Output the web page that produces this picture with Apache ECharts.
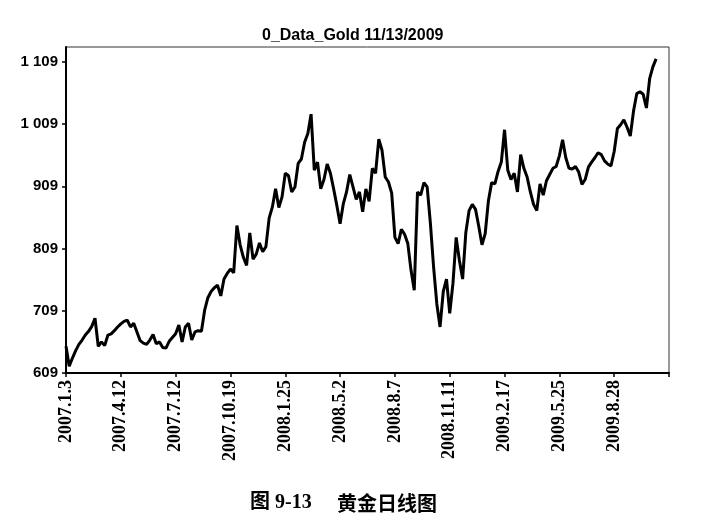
<!DOCTYPE html>
<html>
<head>
<meta charset="utf-8">
<script src="https://cdn.jsdelivr.net/npm/echarts@6/dist/echarts.min.js"></script>
<style>
  html, body { margin: 0; padding: 0; background: #fff; }
  #main { width: 707px; height: 523px; }
</style>
</head>
<body>
<div id="main"></div>
<script>
const goldPrice = [
  652, 620, 633, 645, 655, 662, 670, 676, 684, 697,
  652, 659, 653, 670, 672, 677, 683, 688, 692, 694,
  683, 689, 675, 661, 657, 655, 662, 671, 656, 659,
  650, 649, 660, 666, 672, 686, 659, 683, 689, 662,
  675, 677, 676, 710, 730, 740, 746, 750, 733, 760,
  769, 776, 770, 846, 815, 795, 782, 834, 792, 800,
  818, 804, 812, 858, 876, 905, 875, 892, 930, 926,
  900, 908, 946, 953, 980, 994, 1025, 935, 948, 905,
  920, 945, 930, 905, 878, 849, 881, 900, 928, 908,
  888, 900, 868, 905, 885, 938, 930, 985, 967, 924,
  916, 898, 827, 817, 840, 832, 817, 774, 742, 900,
  895, 915, 908, 850, 779, 720, 683, 740, 760, 705,
  753, 827, 790, 760, 835, 870, 880, 872, 845, 815,
  833, 886, 915, 913, 933, 948, 1000, 935, 920, 930,
  900, 960, 938, 924, 900, 880, 870, 913, 895, 918,
  928, 938, 941, 958, 984, 955, 938, 937, 941, 932,
  912, 920, 940, 948, 955, 963, 960, 950, 945, 942,
  965, 1002, 1008, 1016, 1004, 990, 1030, 1058, 1061, 1057,
  1035, 1082, 1101, 1114
];

// tick labels, one every 17 samples (~68 trading days)
const xTickLabels = [
  '2007.1.3', '2007.4.12', '2007.7.12', '2007.10.19', '2008.1.25', '2008.5.2',
  '2008.8.7', '2008.11.11', '2009.2.17', '2009.5.25', '2009.8.28'
];
const samplesPerTick = 17;
const tickCount = 11;

const yMin = 609;
const yMax = 1133;
const yStep = 100;

const chartTitle = '0_Data_Gold 11/13/2009';
const captionNo = '图 9-13';
const captionText = '黄金日线图';

const categories = [];
for (let i = 0; i <= tickCount * samplesPerTick; i++) categories.push('p' + i);

const myChart = echarts.init(document.getElementById('main'));

const option = {
  backgroundColor: '#fff',
  animation: false,
  title: {
    text: chartTitle,
    left: 257,
    top: 23,
    textStyle: {
      fontFamily: 'Liberation Sans, Arial, sans-serif',
      fontWeight: 'bold',
      fontSize: 16,
      color: '#000'
    }
  },
  grid: {
    left: 66,
    right: 38,
    top: 47,
    bottom: 150,
    show: true,
    borderColor: '#333',
    borderWidth: 1
  },
  xAxis: {
    type: 'category',
    data: categories,
    boundaryGap: false,
    axisLine: { lineStyle: { color: '#000', width: 2 } },
    axisTick: {
      interval: samplesPerTick - 1,
      length: 4,
      lineStyle: { color: '#000', width: 1.5 }
    },
    axisLabel: {
      interval: samplesPerTick - 1,
      rotate: 90,
      margin: 7,
      color: '#000',
      fontFamily: 'Liberation Serif, Times New Roman, serif',
      fontWeight: 'bold',
      fontSize: 18,
      formatter: (v, idx) => xTickLabels[idx / samplesPerTick] || ''
    },
    splitLine: { show: false }
  },
  yAxis: {
    type: 'value',
    min: yMin,
    max: yMax,
    interval: yStep,
    axisLine: { show: true, lineStyle: { color: '#000', width: 2 } },
    axisTick: { show: true, length: 4, lineStyle: { color: '#000', width: 1.5 } },
    axisLabel: {
      showMaxLabel: false,
      margin: 8,
      color: '#000',
      fontFamily: 'Liberation Sans, Arial, sans-serif',
      fontWeight: 'bold',
      fontSize: 15,
      formatter: (v) => {
        if ((v - yMin) % yStep !== 0) return '';
        return v >= 1000 ? Math.floor(v / 1000) + ' ' + String(v % 1000).padStart(3, '0') : String(v);
      }
    },
    splitLine: { show: false }
  },
  series: [
    {
      name: 'Gold',
      type: 'line',
      data: goldPrice,
      showSymbol: false,
      symbol: 'none',
      lineStyle: { color: '#000', width: 3 },
      z: 3
    }
  ],
  graphic: [
    {
      type: 'text',
      left: 250,
      top: 493,
      style: {
        text: captionNo,
        fill: '#000',
        font: 'bold 20px "Liberation Serif", "Noto Sans CJK SC", serif'
      }
    },
    {
      type: 'text',
      left: 337,
      top: 493,
      style: {
        text: captionText,
        fill: '#000',
        font: 'bold 20px "Noto Sans CJK SC", sans-serif'
      }
    }
  ]
};

myChart.setOption(option);

window.addEventListener('resize', () => {
  myChart.resize();
});
</script>
</body>
</html>
